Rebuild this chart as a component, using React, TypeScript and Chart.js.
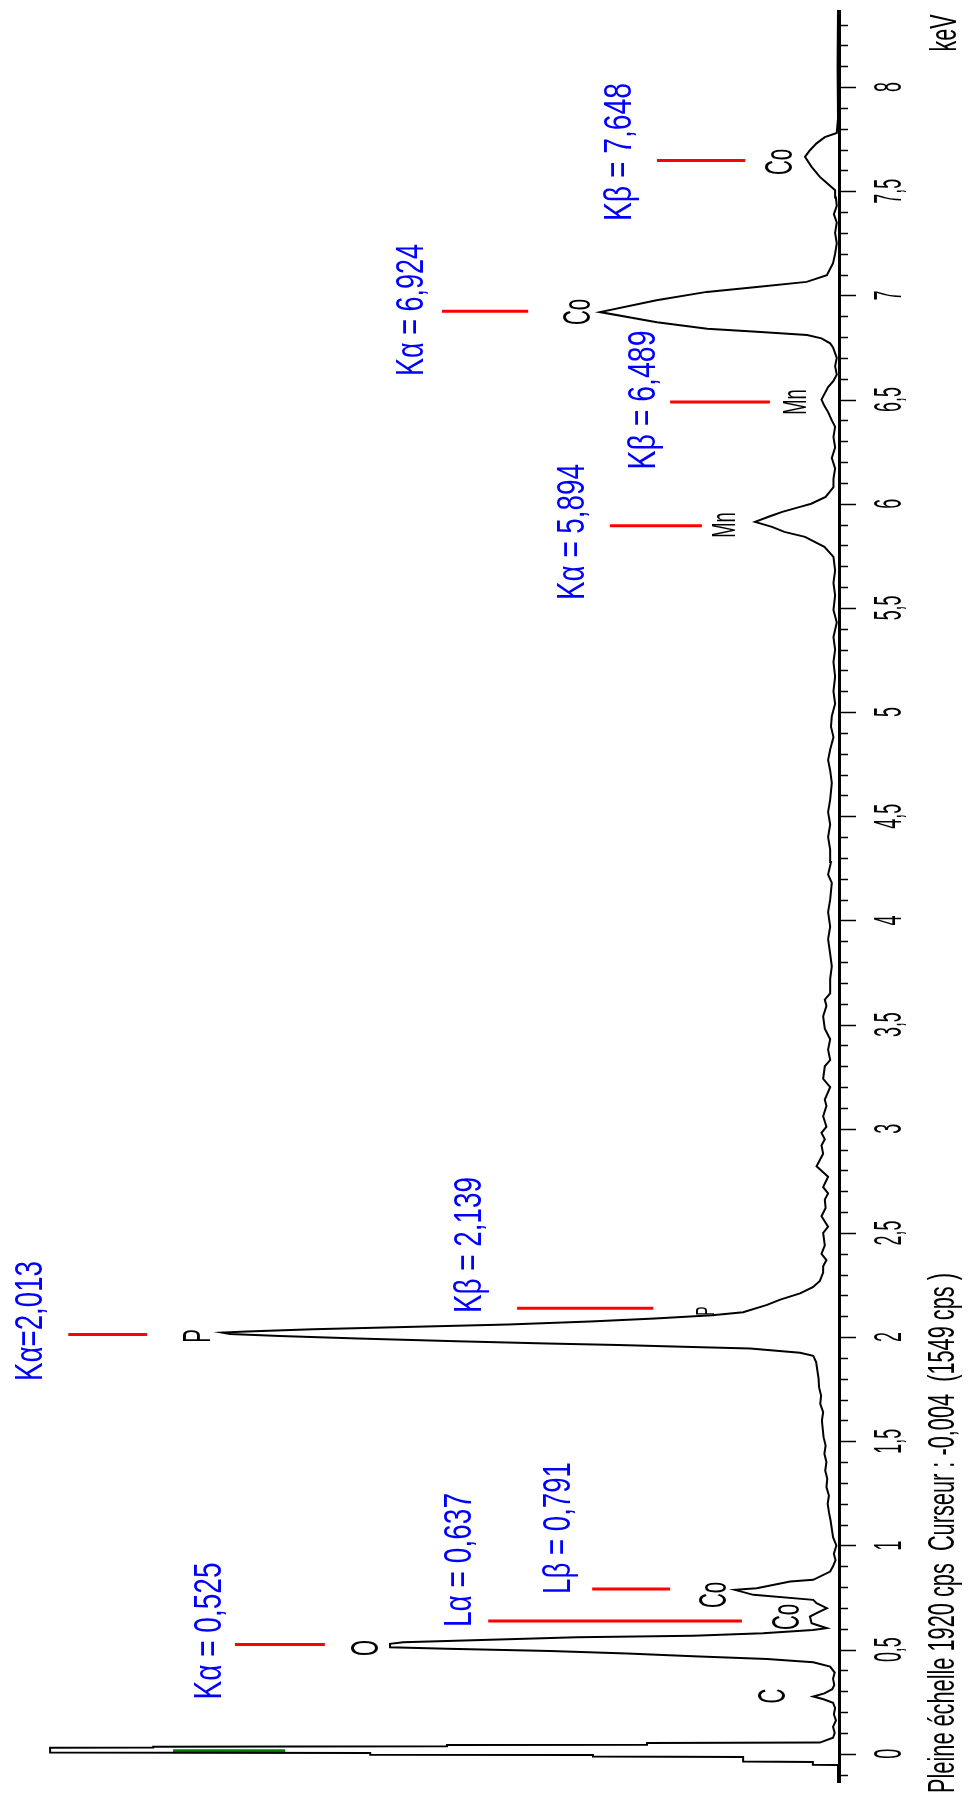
import React, { useEffect, useRef } from "react";
import { Chart, registerables } from "chart.js";

Chart.register(...registerables);

// ---------- Spectrum data (energy in keV, intensity in cps) ----------
const zeroPeakKeV = [-0.14, -0.054, -0.052, -0.039, -0.037, -0.015, -0.013, -0.006, -0.004, 0.004, 0.006, 0.029, 0.030, 0.034, 0.036, 0.042, 0.044, 0.052, 0.054, 0.077];
const zeroPeakCps = [0, 0, 61, 61, 230, 230, 594, 594, 1134, 1134, 1910, 1910, 1660, 1660, 948, 948, 463, 463, 44, 12];

const lowKeV = [0.10, 0.13, 0.16, 0.19, 0.22, 0.245, 0.262, 0.275, 0.29, 0.31, 0.33, 0.36, 0.39, 0.419, 0.44, 0.455, 0.468, 0.481, 0.493, 0.504, 0.512, 0.528, 0.535, 0.547, 0.559, 0.567, 0.579, 0.594, 0.603, 0.627, 0.659, 0.675, 0.699, 0.723, 0.739, 0.763, 0.787, 0.795, 0.827, 0.835, 0.875, 0.90];
const lowCps = [8, 12, 5, 10, 7, 12, 35, 60, 33, 14, 9, 12, 8, 19, 60, 172, 351, 511, 698, 948, 1086, 1086, 1054, 843, 633, 351, 182, 61, 27, 64, 68, 52, 27, 52, 60, 205, 250, 197, 116, 60, 19, 12];

const phosphorusKeV = [0.93, 0.96, 1.0, 1.04, 1.08, 1.12, 1.16, 1.2, 1.24, 1.28, 1.32, 1.36, 1.4, 1.44, 1.48, 1.52, 1.56, 1.6, 1.64, 1.68, 1.72, 1.76, 1.8, 1.84, 1.88, 1.91, 1.925, 1.945, 1.954, 1.962, 1.97, 1.98, 1.994, 2.006, 2.015, 2.022, 2.027, 2.038, 2.048, 2.061, 2.075, 2.09, 2.105, 2.12, 2.155, 2.18, 2.21, 2.24, 2.27, 2.31];
const phosphorusCps = [6, 10, 4, 12, 15, 18, 22, 25, 22, 28, 26, 31, 28, 33, 30, 35, 37, 39, 36, 43, 41, 46, 47, 50, 53, 60, 92, 213, 376, 533, 705, 924, 1164, 1353, 1474, 1493, 1433, 1273, 1074, 800, 601, 444, 305, 230, 172, 140, 92, 61, 44, 36];

const baselineKeV = [2.34, 2.37, 2.4, 2.44, 2.5, 2.53, 2.58, 2.62, 2.66, 2.69, 2.72, 2.77, 2.82, 2.85, 2.88, 2.92, 2.95, 2.98, 3.01, 3.06, 3.11, 3.14, 3.2, 3.24, 3.3, 3.33, 3.38, 3.43, 3.48, 3.54, 3.59, 3.62, 3.65, 3.72, 3.78, 3.84, 3.91, 3.97, 4.04, 4.1, 4.18, 4.22, 4.28, 4.34, 4.4, 4.46, 4.52, 4.58, 4.66, 4.72, 4.77, 4.82, 4.88, 4.93, 4.98, 5.04, 5.1, 5.17, 5.24, 5.3, 5.36, 5.43, 5.49, 5.56, 5.62, 5.68];
const baselineCps = [36, 28, 40, 32, 36, 24, 40, 30, 32, 24, 36, 24, 52, 44, 36, 40, 32, 40, 28, 36, 28, 32, 19, 36, 32, 19, 24, 19, 32, 36, 28, 32, 19, 19, 15, 19, 24, 19, 24, 19, 15, 24, 17, 19, 24, 19, 24, 19, 15, 19, 24, 19, 11, 17, 15, 7, 11, 7, 11, 7, 11, 3, 11, 7, 11, 7];

const transitionKeV = [5.745, 5.793, 5.841, 5.865, 5.889, 5.913, 5.94, 5.961, 5.985, 6.0, 6.033, 6.08, 6.12, 6.17, 6.22, 6.27, 6.32, 6.37, 6.4, 6.44, 6.47, 6.5, 6.53, 6.56, 6.59, 6.62, 6.66, 6.7, 6.75, 6.77, 6.794, 6.81, 6.826, 6.84, 6.871, 6.92, 6.977, 7.017, 7.041, 7.065, 7.097, 7.155, 7.2, 7.25, 7.3, 7.35, 7.39, 7.43, 7.47, 7.505, 7.54, 7.569, 7.617, 7.665, 7.697, 7.73, 7.76, 7.78, 7.85, 8.1, 8.37];
const transitionCps = [11, 33, 80, 130, 160, 201, 165, 135, 92, 65, 30, 11, 11, 7, 15, 7, 11, 7, 15, 24, 33, 40, 32, 24, 11, 3, 7, 3, 12, 19, 40, 75, 197, 317, 439, 577, 440, 318, 197, 76, 27, 12, 7, 3, 7, 3, 10, 3, 5, 7, 27, 44, 64, 80, 68, 52, 32, 3, 0, 1, 0];

// ---------- Line markers ----------
const markerKeV = [0.525, 0.637, 0.791, 2.013, 2.139, 5.894, 6.489, 6.924, 7.648];
const markerLabels = ["Kα = 0,525", "Lα = 0,637", "Lβ = 0,791", "Kα=2,013", "Kβ = 2,139", "Kα = 5,894", "Kβ = 6,489", "Kα = 6,924", "Kβ = 7,648"];
const markerFromCps = [1462, 848, 596, 1866, 778, 553, 407, 960, 439];
const markerToCps = [1244, 233, 407, 1675, 448, 330, 165, 751, 225];

const elementNames = ["O", "C", "Co", "Co", "P", "P", "Mn", "Mn", "Co", "Co"];

// cursor marker
const cursorKeV = 0.012;
const cursorFromCps = 1340;
const cursorToCps = 1612;

// ---------- Axis ----------
const tickKeV = [0, 0.5, 1, 1.5, 2, 2.5, 3, 3.5, 4, 4.5, 5, 5.5, 6, 6.5, 7, 7.5, 8];
const tickLabels = ["0", "0,5", "1", "1,5", "2", "2,5", "3", "3,5", "4", "4,5", "5", "5,5", "6", "6,5", "7", "7,5", "8"];
const unitLabel = "keV";
const infoText = "Pleine échelle 1920 cps  Curseur : -0,004  (1549 cps )";
const fullScaleCps = 1920;

// ---------- Layout (pixels) ----------
const blueLayout = [
  { cx: 207, cy: 1631, len: 137 },
  { cx: 457, cy: 1560, len: 134 },
  { cx: 556, cy: 1528, len: 132 },
  { cx: 28, cy: 1321, len: 120 },
  { cx: 467, cy: 1245, len: 136 },
  { cx: 570, cy: 532, len: 136 },
  { cx: 641, cy: 400, len: 139 },
  { cx: 409, cy: 310, len: 132 },
  { cx: 617, cy: 152, len: 138 },
];
const elementLayout = [
  { cx: 364, cy: 1648, f: 38 },
  { cx: 771, cy: 1696, f: 38 },
  { cx: 785, cy: 1617, f: 38 },
  { cx: 712, cy: 1595, f: 38 },
  { cx: 196, cy: 1336, f: 38 },
  { cx: 705, cy: 1311, f: 26 },
  { cx: 723, cy: 525, f: 34 },
  { cx: 794, cy: 402, f: 34 },
  { cx: 576, cy: 312, f: 38 },
  { cx: 778, cy: 162, f: 38 },
];

const FONT = '"Liberation Sans", Arial, sans-serif';

function rotText(
  ctx: CanvasRenderingContext2D,
  text: string,
  cx: number,
  cy: number,
  fontPx: number,
  color: string,
  len?: number,
  sx?: number
) {
  ctx.save();
  ctx.font = `${fontPx}px ${FONT}`;
  const w = ctx.measureText(text).width;
  const scale = len ? len / w : sx || 1;
  const cap = fontPx * 0.72;
  ctx.translate(cx + cap / 2, cy);
  ctx.rotate(-Math.PI / 2);
  ctx.scale(scale, 1);
  ctx.textAlign = "center";
  ctx.textBaseline = "alphabetic";
  ctx.fillStyle = color;
  ctx.fillText(text, 0, 0);
  ctx.restore();
}

function pts(keV: number[], cps: number[]) {
  return keV.map((k, i) => ({ x: cps[i], y: k }));
}

export default function App() {
  const ref = useRef<HTMLCanvasElement>(null);

  useEffect(() => {
    document.body.style.margin = "0";
    const canvas = ref.current;
    if (!canvas) return;

    const spectrum = [
      ...pts(zeroPeakKeV, zeroPeakCps),
      ...pts(lowKeV, lowCps),
      ...pts(phosphorusKeV, phosphorusCps),
      ...pts(baselineKeV, baselineCps),
      ...pts(transitionKeV, transitionCps),
    ];

    const datasets: any[] = [
      {
        data: spectrum,
        showLine: true,
        borderColor: "#000000",
        borderWidth: 2,
        pointRadius: 0,
        pointHoverRadius: 0,
        tension: 0,
        fill: false,
        order: 0,
      },
    ];
    markerKeV.forEach((k, i) => {
      datasets.push({
        data: [
          { x: markerFromCps[i], y: k },
          { x: markerToCps[i], y: k },
        ],
        showLine: true,
        borderColor: "#ff0000",
        borderWidth: 3,
        pointRadius: 0,
        pointHoverRadius: 0,
        order: 1,
      });
    });
    datasets.push({
      data: [
        { x: cursorFromCps, y: cursorKeV },
        { x: cursorToCps, y: cursorKeV },
      ],
      showLine: true,
      borderColor: "#008000",
      borderWidth: 4,
      pointRadius: 0,
      pointHoverRadius: 0,
      order: 2,
    });

    const overlay = {
      id: "overlay",
      afterDraw(chart: any) {
        const ctx: CanvasRenderingContext2D = chart.ctx;
        const xs = chart.scales.x;
        const ys = chart.scales.y;
        const area = chart.chartArea;
        const x0 = xs.getPixelForValue(0);

        ctx.save();
        ctx.strokeStyle = "#000";
        ctx.lineWidth = 3;
        ctx.beginPath();
        ctx.moveTo(x0 + 1.5, area.top);
        ctx.lineTo(x0 + 1.5, area.bottom);
        ctx.stroke();

        ctx.lineWidth = 1.5;
        for (let i = -1; i <= 83; i++) {
          const v = i / 10;
          const y = Math.round(ys.getPixelForValue(v)) + 0.5;
          const major = i % 5 === 0;
          ctx.beginPath();
          ctx.moveTo(x0 + 1, y);
          ctx.lineTo(x0 + (major ? 18 : 10), y);
          ctx.stroke();
        }
        ctx.restore();

        tickKeV.forEach((v, i) => {
          rotText(ctx, tickLabels[i], 887, ys.getPixelForValue(v), 38, "#000", undefined, 0.47);
        });
        rotText(ctx, unitLabel, 943, 33, 37, "#000", 37);
        rotText(ctx, infoText, 941, 1533, 37, "#000", 520);

        markerLabels.forEach((t, i) => {
          const l = blueLayout[i];
          rotText(ctx, t, l.cx, l.cy, 39, "#0000ff", l.len);
        });
        elementNames.forEach((t, i) => {
          const l = elementLayout[i];
          rotText(ctx, t, l.cx, l.cy, l.f, "#000", undefined, 0.54);
        });
      },
    };

    const chart = new Chart(canvas, {
      type: "scatter",
      data: { datasets },
      options: {
        responsive: false,
        animation: false,
        events: [],
        layout: { padding: { left: 46, right: 130, top: 10, bottom: 15 } },
        scales: {
          x: { type: "linear", min: 0, max: fullScaleCps, reverse: true, display: false },
          y: { type: "linear", min: -0.14, max: 8.37, display: false },
        },
        plugins: {
          legend: { display: false },
          tooltip: { enabled: false },
        },
      },
      plugins: [overlay],
    });

    return () => chart.destroy();
  }, []);

  return (
    <div style={{ width: 968, height: 1798, background: "#fff" }}>
      <canvas ref={ref} width={968} height={1798} style={{ display: "block", width: 968, height: 1798 }} />
    </div>
  );
}
